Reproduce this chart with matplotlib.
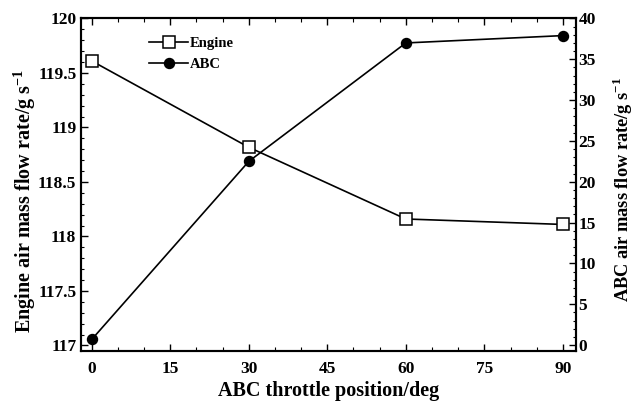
import matplotlib.pyplot as plt
from matplotlib.ticker import MultipleLocator

plt.rcParams['font.family'] = ['Liberation Serif']
plt.rcParams['font.weight'] = 'bold'
plt.rcParams['mathtext.fontset'] = 'custom'
plt.rcParams['mathtext.rm'] = 'Liberation Serif:bold'
plt.rcParams['mathtext.bf'] = 'Liberation Serif:bold'

throttle = [0, 30, 60, 90]
engine_flow = [119.61, 118.818, 118.16, 118.11]
abc_flow = [0.7, 22.5, 37.0, 37.9]

fig = plt.figure(figsize=(6.35, 4.01), dpi=100)
ax = fig.add_axes([0.128, 0.125, 0.779, 0.829])
ax2 = ax.twinx()

l1, = ax.plot(throttle, engine_flow, color='black', lw=1.2, marker='s', ms=8,
              mfc='white', mec='black', mew=1.1, label='Engine')
l2, = ax2.plot(throttle, abc_flow, color='black', lw=1.2, marker='o', ms=7.2,
               mfc='black', mec='black', label='ABC')

ax.set_xlim(-2, 92.5)
ax.set_ylim(116.95, 120)
ax2.set_ylim(-0.7, 40)

ax.xaxis.set_major_locator(MultipleLocator(15))
ax.xaxis.set_minor_locator(MultipleLocator(5))
ax.yaxis.set_minor_locator(MultipleLocator(0.1))
ax2.yaxis.set_major_locator(MultipleLocator(5))
ax2.yaxis.set_minor_locator(MultipleLocator(1))

ax.set_yticks([117, 117.5, 118, 118.5, 119, 119.5, 120])
ax.set_yticklabels(['117', '117.5', '118', '118.5', '119', '119.5', '120'])

ax.tick_params(axis='x', which='both', direction='in', top=True, labelsize=12.5, pad=7)
ax.tick_params(axis='x', which='major', length=5, width=1)
ax.tick_params(axis='x', which='minor', length=3, width=0.8)
ax.tick_params(axis='y', which='major', direction='in', length=5, width=1, labelsize=12.5)
ax.tick_params(axis='y', which='minor', direction='in', length=2.5, width=0.8)
ax2.tick_params(axis='y', which='major', direction='in', length=5, width=1, labelsize=12.5, pad=2)
ax2.tick_params(axis='y', which='minor', direction='in', length=2.5, width=0.8)

for a in (ax, ax2):
    for s in a.spines.values():
        s.set_linewidth(1.5)

ax.set_xlabel('ABC throttle position/deg', fontsize=14.5, fontweight='bold', labelpad=3)
ax.set_ylabel('Engine air mass flow rate/g s$^{-1}$', fontsize=14.5, fontweight='bold')
ax2.set_ylabel('ABC air mass flow rate/g s$^{-1}$', fontsize=13.2, fontweight='bold')
ax.yaxis.set_label_coords(-0.088, 0.45)
ax2.yaxis.set_label_coords(1.07, 0.485)

ax.legend(handles=[l1, l2], loc='upper left', bbox_to_anchor=(0.11, 0.985), frameon=False,
          fontsize=10.5, handlelength=2.7, handletextpad=0.1, labelspacing=0.55)

fig.savefig('out.png', dpi=100)
